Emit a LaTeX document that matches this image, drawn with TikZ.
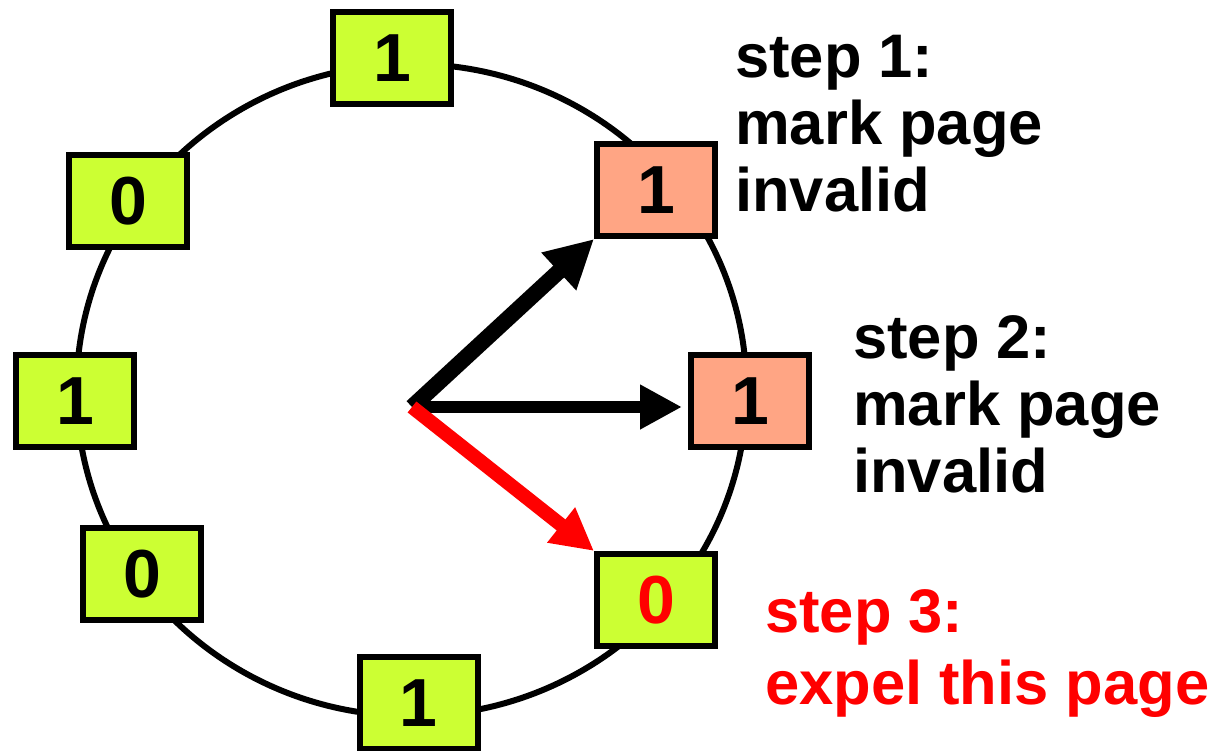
\documentclass[tikz,border=0pt]{standalone}
\usepackage{fontspec}
\setmainfont{Liberation Sans}
\usetikzlibrary{arrows.meta}
\definecolor{lime}{HTML}{CCFF33}
\definecolor{salmon}{HTML}{FFA584}
\definecolor{alert}{HTML}{FF0000}
\begin{document}
\begin{tikzpicture}[x=1pt,y=-1pt,
  pagebox/.style={draw=black, line width=6pt, fill=lime, minimum width=118pt,
    minimum height=92pt, inner sep=0pt, font=\fontsize{68}{72}\selectfont\bfseries},
  markedbox/.style={pagebox, fill=salmon},
  steptext/.style={anchor=north west, align=left, inner sep=0pt,
    font=\fontsize{61.5}{67}\selectfont\bfseries},
  ptr/.style={line width=13pt, -{Triangle[length=42pt,width=42pt]}}]
\useasboundingbox (0,0) rectangle (1215,751);

% the clock ring
\draw[line width=6pt] (411.5,390) ellipse [x radius=335pt, y radius=326pt];

% pages on the ring with their reference bits
\node[pagebox]   (top)   at (392,58)  {1};
\node[markedbox] (p1)    at (656,190) {1};
\node[markedbox] (p2)    at (750,401) {1};
\node[pagebox]   (p3)    at (656,600) {\color{alert}0};
\node[pagebox]   (bot)   at (418.5,703) {1};
\node[pagebox]   (bl)    at (142,574) {0};
\node[pagebox]   (left)  at (75,401)  {1};
\node[pagebox]   (tl)    at (128,201) {0};

% clock hand
\coordinate (hand) at (412,407);
\draw[ptr, line width=16pt, -{Triangle[length=48pt,width=48pt]}] (hand) -- (p1.south west);
\draw[ptr, line width=12pt, shorten >=6pt] (hand) -- (hand -| p2.west);
\draw[ptr, alert, line width=14pt] (hand) -- (p3.north west);

% step labels
\node[steptext] (s1) at (735,35)  {step 1:\\mark page\\invalid};
\node[steptext] (s2) at (853,315) {step 2:\\mark page\\invalid};
\node[steptext, text=alert, font=\fontsize{61.5}{72}\selectfont\bfseries]
  (s3) at (765,589) {step 3:\\expel this page};
\end{tikzpicture}
\end{document}
